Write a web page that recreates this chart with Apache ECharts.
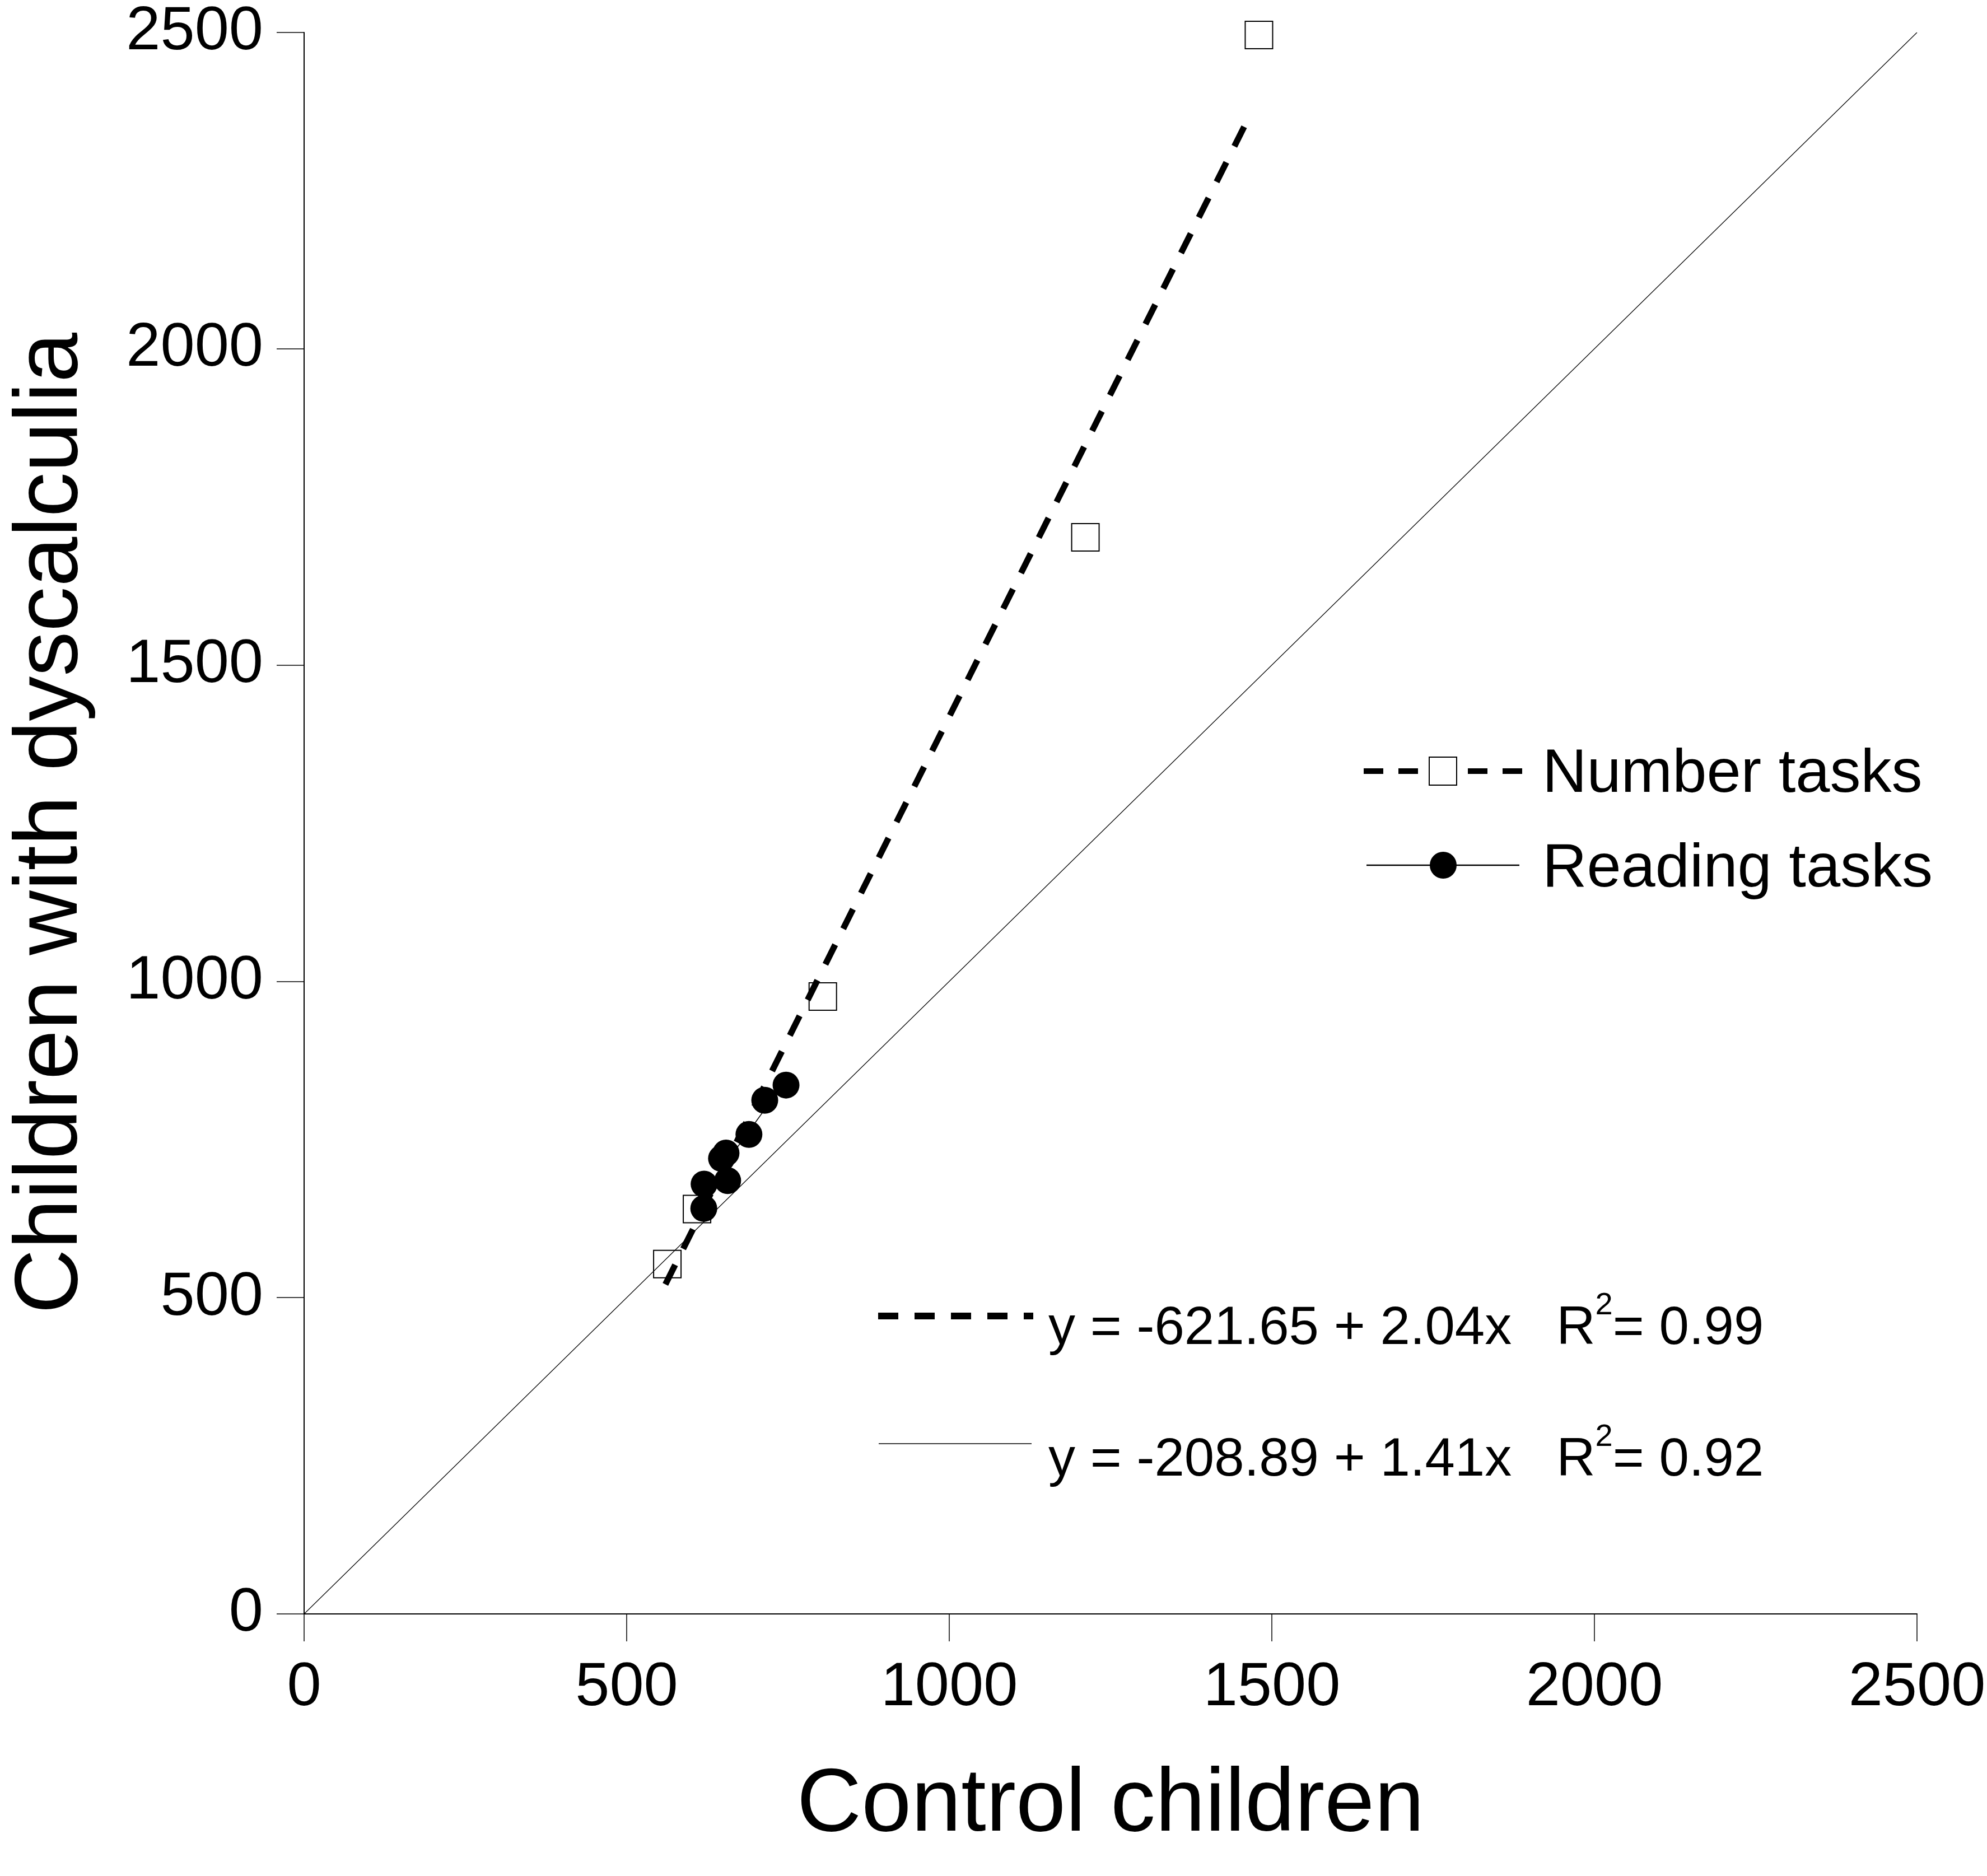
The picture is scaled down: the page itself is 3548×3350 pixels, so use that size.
<!DOCTYPE html>
<html>
<head>
<meta charset="utf-8">
<title>Control children vs children with dyscalculia</title>
<script src="https://cdn.jsdelivr.net/npm/echarts@6/dist/echarts.min.js"></script>
<style>
    html, body { margin: 0; padding: 0; background: #fff; }
    #chart { width: 3548px; height: 3350px; }
</style>
</head>
<body>
<div id="chart"></div>
<script>
    // 数字任务（空心方块）
    var numberX = [563, 609, 804, 1211, 1480];
    var numberY = [553, 640, 976, 1702, 2496];
    // 阅读任务（实心圆点）
    var readingX = [619.5, 620, 647, 654, 656.5, 689.5, 714, 747];
    var readingY = [641, 679.5, 720, 728.6, 685, 758, 812, 836];
    // 回归线端点
    var numberFitX = [560, 1462];
    var numberFitY = [521, 2361];
    var readingFitX = [620, 747];
    var readingFitY = [665, 844];
    // 对角线 y = x
    var identityX = [0, 2500];
    var identityY = [0, 2500];
    // 坐标轴刻度
    var axisTicks = [0, 500, 1000, 1500, 2000, 2500];

    var numberEq = "y = -621.65 + 2.04x   R";
    var numberR2 = "= 0.99";
    var readingEq = "y = -208.89 + 1.41x   R";
    var readingR2 = "= 0.92";

    var FONT = "'Liberation Sans', Arial, sans-serif";

    function pairs(xs, ys) {
        return xs.map(function (x, i) { return [x, ys[i]]; });
    }

    var myChart = echarts.init(document.getElementById("chart"), null, {renderer: "canvas"});

    var axisCommon = {
        type: "value",
        min: axisTicks[0],
        max: axisTicks[axisTicks.length - 1],
        interval: axisTicks[1] - axisTicks[0],
        nameLocation: "middle",
        nameTextStyle: {fontSize: 160, color: "#000", fontFamily: FONT},
        axisLine: {show: true, lineStyle: {color: "#000", width: 2}},
        axisTick: {show: true, length: 49, lineStyle: {color: "#000", width: 1.5}},
        splitLine: {show: false}
    };

    //刻度标签不要千分位
    function plainLabel(v) {
        return String(v);
    }

    var option = {
        backgroundColor: "#fff",
        animation: false,
        grid: {left: 543, right: 125, top: 58, bottom: 468, outerBoundsMode: "none"},
        xAxis: Object.assign({}, axisCommon, {
            name: "Control children",
            nameGap: 263,
            axisLabel: {fontSize: 110, color: "#000", fontFamily: FONT, margin: 78, formatter: plainLabel}
        }),
        yAxis: Object.assign({}, axisCommon, {
            name: "Children with dyscalculia",
            nameGap: 370,
            axisLabel: {fontSize: 110, color: "#000", fontFamily: FONT, margin: 73, formatter: plainLabel}
        }),
        series: [
            {
                //对角线
                type: "line",
                data: pairs(identityX, identityY),
                symbol: "none",
                lineStyle: {color: "#000", width: 1.2},
                silent: true,
                z: 1
            },
            {
                //数字任务回归线（虚线）
                type: "line",
                data: pairs(numberFitX, numberFitY),
                symbol: "none",
                lineStyle: {color: "#000", width: 11, type: [39, 32], cap: "butt"},
                silent: true,
                z: 2
            },
            {
                //阅读任务回归线
                type: "line",
                data: pairs(readingFitX, readingFitY),
                symbol: "none",
                lineStyle: {color: "#000", width: 1.6},
                silent: true,
                z: 2
            },
            {
                name: "Number tasks",
                type: "scatter",
                data: pairs(numberX, numberY),
                symbol: "rect",
                symbolSize: 49,
                itemStyle: {color: "rgba(0,0,0,0)", borderColor: "#000", borderWidth: 2, opacity: 1},
                silent: true,
                z: 3
            },
            {
                name: "Reading tasks",
                type: "scatter",
                data: pairs(readingX, readingY),
                symbol: "circle",
                symbolSize: 48,
                itemStyle: {color: "#000", opacity: 1},
                silent: true,
                z: 4
            }
        ],
        graphic: [
            // 图例：数字任务
            {type: "line", shape: {x1: 2435, y1: 1377, x2: 2718, y2: 1377},
                style: {stroke: "#000", lineWidth: 10, lineDash: [35, 27]}},
            {type: "rect", shape: {x: 2552, y: 1352, width: 49, height: 50},
                style: {fill: "#fff", stroke: "#000", lineWidth: 2}},
            {type: "text", x: 2754, y: 1384,
                style: {text: "Number tasks", fontSize: 110, fontFamily: FONT, fill: "#000", verticalAlign: "middle"}},
            // 图例：阅读任务
            {type: "line", shape: {x1: 2440, y1: 1545, x2: 2713, y2: 1545},
                style: {stroke: "#000", lineWidth: 2.3}},
            {type: "circle", shape: {cx: 2577, cy: 1545, r: 24},
                style: {fill: "#000"}},
            {type: "text", x: 2754, y: 1553,
                style: {text: "Reading tasks", fontSize: 110, fontFamily: FONT, fill: "#000", verticalAlign: "middle"}},
            // 回归方程
            {type: "line", shape: {x1: 1568, y1: 2350, x2: 1845, y2: 2350},
                style: {stroke: "#000", lineWidth: 12, lineDash: [36, 29]}},
            {type: "text", x: 1872, y: 2374,
                style: {
                    text: "{m|" + numberEq + "}{s|2}{m|" + numberR2 + "}",
                    fill: "#000", verticalAlign: "middle",
                    rich: {
                        m: {fontSize: 96, lineHeight: 140, fontFamily: FONT},
                        s: {fontSize: 56, lineHeight: 56, fontFamily: FONT, verticalAlign: "top"}
                    }
                }},
            {type: "line", shape: {x1: 1569, y1: 2578, x2: 1842, y2: 2578},
                style: {stroke: "#000", lineWidth: 1.7}},
            {type: "text", x: 1872, y: 2609,
                style: {
                    text: "{m|" + readingEq + "}{s|2}{m|" + readingR2 + "}",
                    fill: "#000", verticalAlign: "middle",
                    rich: {
                        m: {fontSize: 96, lineHeight: 140, fontFamily: FONT},
                        s: {fontSize: 56, lineHeight: 56, fontFamily: FONT, verticalAlign: "top"}
                    }
                }}
        ]
    };

    myChart.setOption(option);
</script>
</body>
</html>
